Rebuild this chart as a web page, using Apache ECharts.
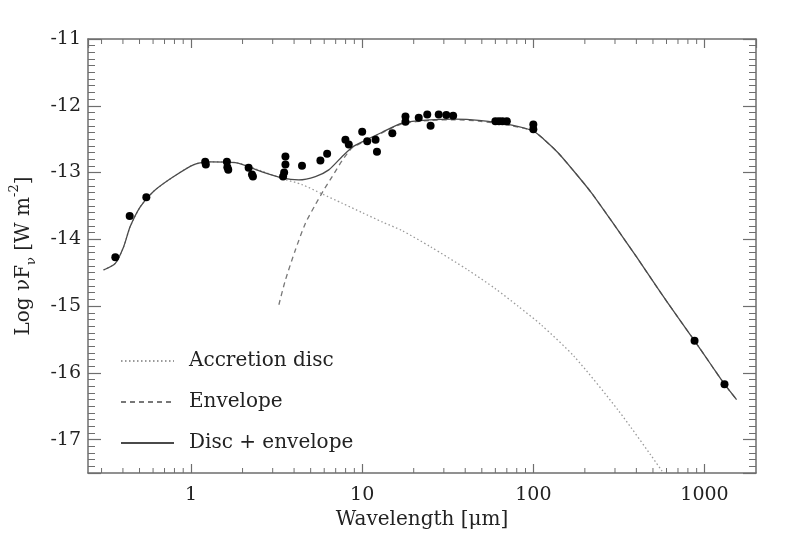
<!DOCTYPE html>
<html>
<head>
<meta charset="utf-8">
<script src="https://cdn.jsdelivr.net/npm/echarts@6.0.0/dist/echarts.min.js"></script>
<style>
html,body{margin:0;padding:0;background:#fff;}
#chart{width:789px;height:539px;}
</style>
</head>
<body>
<div id="chart"></div>
<script>
// ---- data (wavelength in micron, log nuF_nu in W m^-2) ----
const observedPoints = [
  [0.361,-14.27],[0.438,-13.65],[0.548,-13.37],
  [1.21,-12.84],[1.22,-12.88],[1.62,-12.84],[1.63,-12.92],[1.65,-12.96],
  [2.17,-12.93],[2.27,-13.03],[2.30,-13.06],
  [3.56,-12.76],[3.56,-12.88],[3.50,-13.00],[3.45,-13.06],
  [4.45,-12.90],[5.7,-12.82],[6.24,-12.72],[7.98,-12.51],[8.35,-12.58],
  [10.0,-12.39],[10.7,-12.53],[11.97,-12.51],[12.2,-12.69],[15.0,-12.41],
  [17.9,-12.16],[17.9,-12.24],[21.4,-12.18],[24.0,-12.13],[25.1,-12.30],
  [28.0,-12.13],[31.0,-12.14],[34.0,-12.15],
  [60,-12.23],[63,-12.23],[66,-12.23],[70,-12.23],
  [100,-12.28],[100,-12.35],
  [875,-15.52],[1309,-16.17]
];
const discCurve = [
  [0.308,-14.46],[0.361,-14.36],[0.404,-14.11],[0.441,-13.81],[0.506,-13.51],
  [0.605,-13.28],[0.792,-13.06],[1.04,-12.88],[1.30,-12.84],[1.81,-12.85],
  [2.6,-12.98],[3.4,-13.09],[4.45,-13.18],[5.83,-13.32],[7.64,-13.46],
  [10,-13.60],[13.1,-13.74],[17.1,-13.87],[25,-14.11],[41.5,-14.46],
  [60,-14.74],[81.3,-15.00],[111,-15.28],[174,-15.76],[313,-16.56],
  [561,-17.46],[600,-17.6]
];
const envelopeCurve = [
  [3.26,-14.98],[3.56,-14.61],[4.07,-14.16],[4.66,-13.76],[5.33,-13.48],
  [5.97,-13.26],[6.68,-13.06],[7.64,-12.82],[8.74,-12.63],[10,-12.55],[13,-12.41],
  [17.1,-12.27],[25,-12.22],[35,-12.21],[48,-12.23],[75,-12.30],[100,-12.38],
  [115,-12.50],[139,-12.70],[170,-12.96],[218,-13.30],[300,-13.80],[400,-14.26],
  [535,-14.74],[700,-15.17],[875,-15.52],[1100,-15.89],[1309,-16.17],[1540,-16.40]
];
const totalCurve = [
  [0.308,-14.46],[0.361,-14.36],[0.404,-14.11],[0.441,-13.81],[0.506,-13.51],
  [0.605,-13.28],[0.792,-13.06],[1.04,-12.88],[1.30,-12.84],[1.81,-12.85],
  [2.6,-12.99],[3.4,-13.08],[4.26,-13.11],[5.33,-13.06],[6.38,-12.96],
  [7.64,-12.76],[8.74,-12.62],[10,-12.54],[13,-12.40],[17.1,-12.26],[25,-12.21],
  [35,-12.20],[48,-12.22],[75,-12.29],[100,-12.38],
  [115,-12.50],[139,-12.70],[170,-12.96],[218,-13.30],[300,-13.80],[400,-14.26],
  [535,-14.74],[700,-15.17],[875,-15.52],[1100,-15.89],[1309,-16.17],[1540,-16.40]
];
const seriesNames = ['Accretion disc','Envelope','Disc + envelope'];
const xMinorTicks = [0.3,0.4,0.5,0.6,0.7,0.8,0.9,2,3,4,5,6,7,8,9,20,30,40,50,60,70,80,90,200,300,400,500,600,700,800,900];
const xRange = [0.25, 2000];
const yRange = [-17.5, -11];

const FONT = 'DejaVu Serif';
const FRAME = '#6e6e6e';
const chart = echarts.init(document.getElementById('chart'));

function xAxisDef(pos, showLabels) {
  return {
    type: 'log', logBase: 10, position: pos,
    min: xRange[0], max: xRange[1],
    axisLine: {show: true, onZero: false, lineStyle: {color: FRAME, width: 1.5}},
    axisTick: {show: true, inside: true, length: 9, lineStyle: {color: FRAME, width: 1.2}},
    minorTick: {show: false},
    splitLine: {show: false},
    axisLabel: {show: showLabels, showMinLabel: false, showMaxLabel: false,
      fontFamily: FONT, fontSize: 19, color: '#222', margin: 13,
      formatter: v => String(Math.round(v))},
    name: showLabels ? 'Wavelength [μm]' : '',
    nameLocation: 'middle', nameGap: 33,
    nameTextStyle: {fontFamily: FONT, fontSize: 20, color: '#222'}
  };
}
function yAxisDef(pos, showLabels) {
  return {
    type: 'value', position: pos,
    min: yRange[0], max: yRange[1],
    axisLine: {show: true, onZero: false, lineStyle: {color: FRAME, width: 1.5}},
    axisTick: {show: true, inside: true, length: 13, lineStyle: {color: FRAME, width: 1.2}},
    minorTick: {show: true, splitNumber: 10, length: 7, lineStyle: {color: FRAME, width: 1}},
    splitLine: {show: false},
    axisLabel: {show: showLabels, showMinLabel: false,
      fontFamily: FONT, fontSize: 19, color: '#222', margin: 7},
    name: showLabels ? 'Log νF{sub|ν} [W m{sup|-2}]' : '',
    nameLocation: 'middle', nameGap: 54, nameRotate: 90,
    nameTextStyle: {fontFamily: FONT, fontSize: 20, color: '#222',
      rich: {
        sub: {fontFamily: FONT, fontSize: 13, color: '#222', verticalAlign: 'bottom', padding: [0,0,-4,0]},
        sup: {fontFamily: FONT, fontSize: 13, color: '#222', verticalAlign: 'top', padding: [-6,0,0,0]}
      }}
  };
}

chart.setOption({
  animation: false,
  backgroundColor: '#fff',
  grid: {left: 86, right: 33, top: 39, bottom: 66},
  xAxis: [xAxisDef('bottom', true), xAxisDef('top', false)],
  yAxis: [yAxisDef('left', true), yAxisDef('right', false)],
  legend: {
    data: seriesNames,
    orient: 'vertical', left: 120, top: 351, padding: 0,
    itemWidth: 53, itemHeight: 14, itemGap: 21,
    itemStyle: {opacity: 0},
    textStyle: {fontFamily: FONT, fontSize: 20, color: '#222', padding: [0,0,0,10]}
  },
  series: [
    {name: seriesNames[0], type: 'line', data: discCurve, smooth: 0.25, symbol: 'none',
     lineStyle: {color: '#9a9a9a', width: 1.3, type: [1.5, 2.5]}, itemStyle: {color: '#9a9a9a'}, z: 2},
    {name: seriesNames[1], type: 'line', data: envelopeCurve, smooth: 0.25, symbol: 'none',
     lineStyle: {color: '#777', width: 1.3, type: [5, 4]}, itemStyle: {color: '#777'}, z: 3},
    {name: seriesNames[2], type: 'line', data: totalCurve, smooth: 0.25, symbol: 'none',
     lineStyle: {color: '#4a4a4a', width: 1.3, type: 'solid'}, itemStyle: {color: '#4a4a4a'}, z: 4},
    {name: 'Observed', type: 'scatter', data: observedPoints, symbol: 'circle', symbolSize: 8,
     itemStyle: {color: '#000', opacity: 1}, z: 5},
    {name: 'xminor', type: 'custom', data: xMinorTicks.map(v => [v, yRange[0]]), silent: true, z: 6,
     renderItem: function (params, api) {
       const cs = params.coordSys;
       const px = api.coord([api.value(0), yRange[0]])[0];
       const st = {stroke: FRAME, lineWidth: 1};
       return {type: 'group', children: [
         {type: 'line', shape: {x1: px, y1: cs.y + cs.height, x2: px, y2: cs.y + cs.height - 5}, style: st},
         {type: 'line', shape: {x1: px, y1: cs.y, x2: px, y2: cs.y + 5}, style: st}
       ]};
     }}
  ]
});
</script>
</body>
</html>
